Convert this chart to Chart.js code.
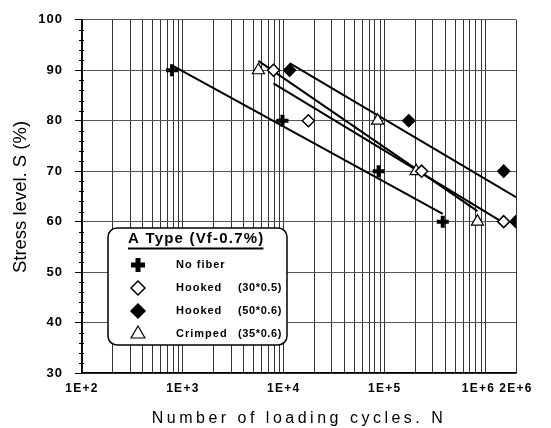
<!DOCTYPE html>
<html>
<head>
<meta charset="utf-8">
<title>S-N curves, A Type</title>
<script src="https://cdn.jsdelivr.net/npm/chart.js@4.4.0/dist/chart.umd.min.js"></script>
<style>
  html, body { margin: 0; padding: 0; background: #fff; }
</style>
</head>
<body>
<canvas id="snChart" width="551" height="428"></canvas>
<script>
// stress level S (%) tested for every fiber type
const stressLevels = [90, 80, 70, 60];

// cycles to failure N at each stress level
const noFiberN  = [780, 9700, 87000, 376000];
const hooked30N = [7900, 17500, 232000, 1510000];
const hooked50N = [11400, 173000, 1510000, 2000000];
const crimpedN  = [5600, 85000, 205000, 830000];

// legend text
const legendTitle = 'A Type (Vf-0.7%)';
const seriesNames = ['No fiber', 'Hooked', 'Hooked', 'Crimped'];
const seriesSizes = ['', '(30*0.5)', '(50*0.6)', '(35*0.6)'];

// axis labels
const yTicks = [30, 40, 50, 60, 70, 80, 90, 100];
const xTickValues = [1e2, 1e3, 1e4, 1e5, 1e6, 2e6];
const xTickLabels = ['1E+2', '1E+3', '1E+4', '1E+5', '1E+6', '2E+6'];
const xTitle = 'Number of loading cycles. N';
const yTitle = 'Stress level. S (%)';

const FONT = "'Liberation Sans', Arial, sans-serif";

// marker look per series
const markers = [
  { pointStyle: 'cross',   radius: 6, borderWidth: 4,   fill: '#000' },
  { pointStyle: 'rectRot', radius: 6, borderWidth: 1.5, fill: '#fff' },
  { pointStyle: 'rectRot', radius: 6, borderWidth: 1.5, fill: '#000' },
  { pointStyle: 'triangle', radius: 7, borderWidth: 1.2, fill: '#fff' }
];
const seriesN = [noFiberN, hooked30N, hooked50N, crimpedN];

// least squares S = a + b*log10(N), drawn over the tested range
function fitLine(ns) {
  const xs = ns.map(Math.log10);
  const n = xs.length;
  const mx = xs.reduce((a, b) => a + b, 0) / n;
  const my = stressLevels.reduce((a, b) => a + b, 0) / n;
  let sxy = 0, sxx = 0;
  xs.forEach((x, i) => {
    sxy += (x - mx) * (stressLevels[i] - my);
    sxx += (x - mx) * (x - mx);
  });
  const b = sxy / sxx;
  const a = my - b * mx;
  const lo = Math.min(...ns), hi = Math.max(...ns);
  return [
    { x: lo, y: a + b * Math.log10(lo) },
    { x: hi, y: a + b * Math.log10(hi) }
  ];
}

// log grid: 1..9 per decade up to the axis end
const gridValues = [];
for (let e = 2; e <= 5; e++) {
  for (let m = 1; m <= 9; m++) gridValues.push(m * Math.pow(10, e));
}
gridValues.push(1e6, 2e6);

const datasets = [];
seriesN.forEach((ns, i) => {
  const mk = markers[i];
  datasets.push({
    type: 'scatter',
    label: seriesNames[i] + ' ' + seriesSizes[i],
    data: ns.map((n, j) => ({ x: n, y: stressLevels[j] })),
    pointStyle: mk.pointStyle,
    pointRadius: mk.radius,
    pointBorderWidth: mk.borderWidth,
    pointBackgroundColor: mk.fill,
    pointBorderColor: '#000',
    order: 0
  });
});
seriesN.forEach((ns, i) => {
  datasets.push({
    type: 'line',
    label: 'fit ' + i,
    data: fitLine(ns),
    borderColor: '#000',
    borderWidth: 2,
    pointRadius: 0,
    fill: false,
    order: 1
  });
});

const decorations = {
  id: 'decorations',
  beforeDraw(chart) {
    chart.ctx.letterSpacing = '1px';
  },
  afterDraw(chart) {
    const ctx = chart.ctx;
    const area = chart.chartArea;
    const xs = chart.scales.x;
    const ys = chart.scales.y;
    ctx.save();
    ctx.fillStyle = '#000';
    ctx.strokeStyle = '#000';

    // minor ticks on the stress axis
    ctx.lineWidth = 1;
    for (let v = 32; v < 100; v += 2) {
      if (v % 10 === 0) continue;
      const y = Math.round(ys.getPixelForValue(v)) + 0.5;
      ctx.beginPath();
      ctx.moveTo(area.left - 3, y);
      ctx.lineTo(area.left + 2, y);
      ctx.stroke();
    }

    // x tick labels, nudged left where two would collide
    ctx.font = 'bold 12px ' + FONT;
    ctx.letterSpacing = '1.3px';
    ctx.textBaseline = 'middle';
    ctx.textAlign = 'center';
    const px = xTickValues.map(v => xs.getPixelForValue(v));
    const widths = xTickLabels.map(t => ctx.measureText(t).width);
    xTickLabels.forEach((t, i) => {
      let cx = px[i];
      if (i < xTickLabels.length - 1) {
        const limit = px[i + 1] - widths[i + 1] / 2 - 4;
        if (cx + widths[i] / 2 > limit) cx = limit - widths[i] / 2;
      }
      ctx.fillText(t, cx, area.bottom + 16);
    });

    // axis titles
    ctx.font = '16px ' + FONT;
    ctx.letterSpacing = '3.5px';
    ctx.fillText(xTitle, (area.left + area.right) / 2, 419);

    ctx.save();
    ctx.translate(21, 197);
    ctx.rotate(-Math.PI / 2);
    ctx.font = '18.5px ' + FONT;
    ctx.letterSpacing = '0px';
    ctx.fillText(yTitle, 0, 0);
    ctx.restore();

    // legend box
    const bx = 108, by = 228, bw = 179, bh = 117;
    ctx.beginPath();
    ctx.roundRect(bx, by, bw, bh, 9);
    ctx.fillStyle = '#fff';
    ctx.fill();
    ctx.lineWidth = 1.5;
    ctx.stroke();

    ctx.fillStyle = '#000';
    ctx.font = 'bold 15px ' + FONT;
    ctx.letterSpacing = '1.2px';
    ctx.textAlign = 'left';
    ctx.fillText(legendTitle, 128, 239);
    const tw = ctx.measureText(legendTitle).width;
    ctx.lineWidth = 2;
    ctx.beginPath();
    ctx.moveTo(128, 248.5);
    ctx.lineTo(128 + tw - 1, 248.5);
    ctx.stroke();

    seriesNames.forEach((name, i) => {
      const y = 265 + i * 23;
      const mk = markers[i];
      ctx.fillStyle = mk.fill;
      ctx.strokeStyle = '#000';
      ctx.lineWidth = mk.pointStyle === 'cross' ? 5 : mk.borderWidth;
      Chart.helpers.drawPoint(ctx, {
        pointStyle: mk.pointStyle,
        radius: mk.radius + 1,
        borderWidth: ctx.lineWidth,
        rotation: 0
      }, 138, y);
      ctx.fillStyle = '#000';
      ctx.textAlign = 'left';
      ctx.font = 'bold 11px ' + FONT;
      ctx.letterSpacing = '1px';
      ctx.fillText(name, 176, y);
      if (seriesSizes[i]) {
        ctx.textAlign = 'right';
        ctx.letterSpacing = '0.6px';
        ctx.fillText(seriesSizes[i], 282, y);
      }
    });
    ctx.restore();
  }
};

new Chart(document.getElementById('snChart'), {
  type: 'scatter',
  data: { datasets },
  options: {
    responsive: false,
    animation: false,
    layout: { padding: { top: 15, right: 35, left: 0, bottom: 0 } },
    plugins: {
      legend: { display: false },
      tooltip: { enabled: false }
    },
    scales: {
      x: {
        type: 'logarithmic',
        min: 100,
        max: 2e6,
        afterBuildTicks: s => { s.ticks = gridValues.map(v => ({ value: v })); },
        afterFit: s => { s.height = 55; },
        grid: { color: '#333', lineWidth: 1, drawTicks: false },
        border: { color: '#000', width: 1.5 },
        ticks: { display: false }
      },
      y: {
        min: 30,
        max: 100,
        afterBuildTicks: s => { s.ticks = yTicks.map(v => ({ value: v })); },
        afterFit: s => { s.width = 82; },
        grid: { color: '#555', lineWidth: 1, tickLength: 7, tickColor: '#000' },
        border: { color: '#000', width: 1.5 },
        ticks: {
          color: '#000',
          padding: 12,
          font: { family: FONT, size: 13, weight: 'bold' }
        }
      }
    }
  },
  plugins: [decorations]
});
</script>
</body>
</html>
